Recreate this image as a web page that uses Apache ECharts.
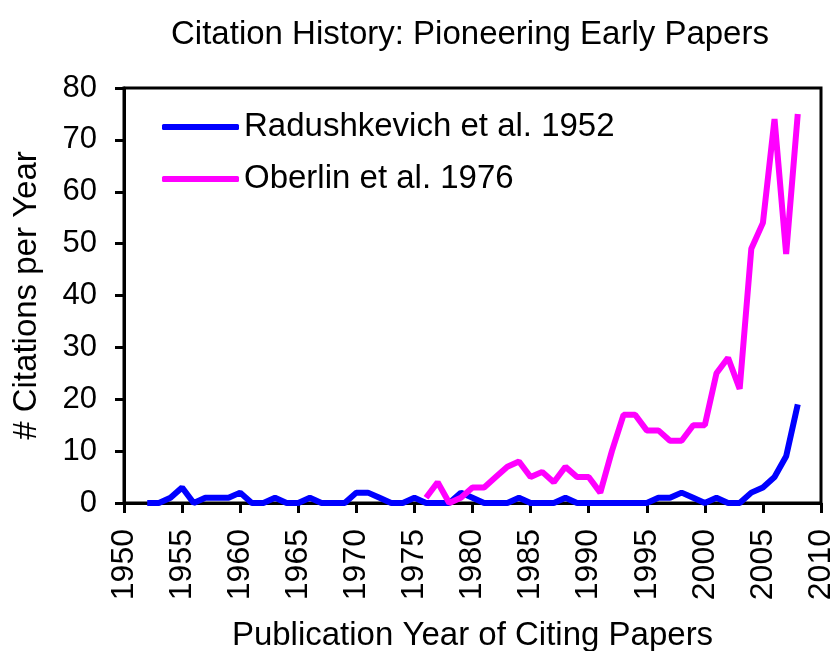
<!DOCTYPE html>
<html>
<head>
<meta charset="utf-8">
<script src="https://cdn.jsdelivr.net/npm/echarts@6/dist/echarts.min.js"></script>
<style>
  html, body { margin: 0; padding: 0; background: #fff; }
  #chart { width: 838px; height: 651px; }
</style>
</head>
<body>
<div id="chart"></div>
<script>
  // Radushkevich et al. 1952, citing years 1952..2008
  const radYears = [];
  for (let y = 1952; y <= 2008; y++) radYears.push(y);
  const radValues = [0, 0, 1, 3, 0, 1, 1, 1, 2, 0, 0, 1, 0, 0, 1, 0, 0, 0, 2, 2,
    1, 0, 0, 1, 0, 0, 0, 2, 1, 0, 0, 0, 1, 0, 0, 0, 1, 0, 0, 0,
    0, 0, 0, 0, 1, 1, 2, 1, 0, 1, 0, 0, 2, 3, 5, 9, 19]

  // Oberlin et al. 1976, citing years 1976..2008
  const oberYears = [];
  for (let y = 1976; y <= 2008; y++) oberYears.push(y);
  const oberValues = [1, 4, 0, 1, 3, 3, 5, 7, 8, 5, 6, 4, 7, 5, 5, 2, 10, 17, 17, 14,
    14, 12, 12, 15, 15, 25, 28, 22, 49, 54, 74, 48, 75]

  const font = 'Liberation Sans, Arial, sans-serif'

  const option = {
    animation: false,
    title: {
      text: 'Citation History: Pioneering Early Papers',
      left: 465,
      textAlign: 'center',
      top: 13,
      textStyle: { color: '#000', fontWeight: 'normal', fontSize: 33, fontFamily: font }
    },
    legend: {
      orient: 'vertical',
      left: 157,
      top: 104,
      itemWidth: 77,
      itemHeight: 6,
      itemGap: 16,
      icon: 'roundRect',
      textStyle: { color: '#000', fontSize: 33, fontFamily: font, lineHeight: 36 },
      data: ['Radushkevich et al. 1952', 'Oberlin et al. 1976']
    },
    grid: {
      left: 124,
      right: 17,
      top: 88,
      bottom: 148,
      outerBoundsMode: 'none',
      show: true,
      borderColor: '#000',
      borderWidth: 3,
      backgroundColor: '#fff'
    },
    xAxis: {
      type: 'value',
      min: 1950,
      max: 2010,
      interval: 5,
      name: 'Publication Year of Citing Papers',
      nameLocation: 'middle',
      nameGap: 116,
      nameTextStyle: { color: '#000', fontSize: 33, fontFamily: font },
      splitLine: { show: false },
      axisLine: { lineStyle: { color: '#000', width: 3 } },
      axisTick: { length: 10, lineStyle: { color: '#000', width: 3 } },
      axisLabel: { rotate: 90, margin: 26, color: '#000', fontSize: 32, fontFamily: font,
        formatter: v => String(v) }
    },
    yAxis: {
      type: 'value',
      min: 0,
      max: 80,
      interval: 10,
      name: '# Citations per Year',
      nameLocation: 'middle',
      nameGap: 81,
      nameTextStyle: { color: '#000', fontSize: 33, fontFamily: font },
      splitLine: { show: false },
      axisLine: { lineStyle: { color: '#000', width: 3 } },
      axisTick: { length: 9, lineStyle: { color: '#000', width: 3 } },
      axisLabel: { margin: 27, color: '#000', fontSize: 31, fontFamily: font }
    },
    series: [
      {
        name: 'Radushkevich et al. 1952',
        type: 'line',
        symbol: 'none',
        color: '#0000ff',
        lineStyle: { width: 6, color: '#0000ff' },
        data: radYears.map((y, i) => [y, radValues[i]])
      },
      {
        name: 'Oberlin et al. 1976',
        type: 'line',
        symbol: 'none',
        color: '#ff00ff',
        lineStyle: { width: 6, color: '#ff00ff' },
        data: oberYears.map((y, i) => [y, oberValues[i]])
      }
    ]
  }

  const chart = echarts.init(document.getElementById('chart'))
  chart.setOption(option)
</script>
</body>
</html>
